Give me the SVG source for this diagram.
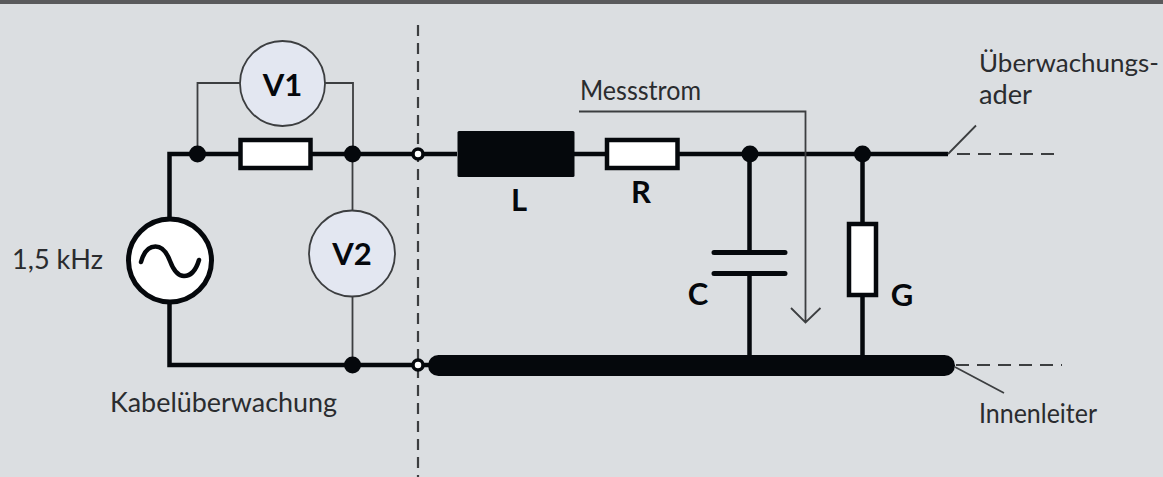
<svg xmlns="http://www.w3.org/2000/svg" width="1163" height="477" viewBox="0 0 1163 477">
<style>
.thin{fill:none;stroke:#3c3e40;stroke-width:1.8}
.wire{fill:none;stroke:#05080c;stroke-width:4.500}
.dash{fill:none;stroke:#3c3e40;stroke-width:2.200;stroke-dasharray:13 8}
.dot{fill:#05080c}
.open{fill:#fff;stroke:#05080c;stroke-width:3.500}
.res{fill:#fff;stroke:#05080c;stroke-width:4.500}
.meter{fill:#e3e7f1;stroke:#3c3e40;stroke-width:1.800}
text{font-family:"Lato","Open Sans","Liberation Sans",sans-serif;fill:#2a2c2f}
.lab{font-size:26px}
.b{font-size:31px;font-weight:700;fill:#05080c;text-anchor:middle}
</style>
<rect width="1163" height="477" fill="#dbdee1"/>
<rect width="1163" height="4" fill="#5a5a5c"/>
<g id="connectors">
<path class="dash" d="M418 25V477" style="stroke-dasharray:11 7"/>
<path class="wire" d="M169.500 220V154H457M574 154H750M750 154H948"/>
<path class="wire" d="M169.500 302V365H430"/>
<path class="wire" d="M749.500 154V252M749.500 274V356M862.500 154V223M862.500 296V356"/>
<path class="thin" d="M197.500 154V83H240M325 83H353V154M352.500 154V211M352.500 296V365"/>
<path class="thin" d="M579 111.500H805.500V322.500M791 308L805.500 322.500L820.500 308"/>
<path class="thin" d="M948 154L976 125.500M955 367L1004 393"/>
<path class="dash" d="M957 154H1056M956 365H1062"/>
</g>
<g id="source"><circle cx="170" cy="260.500" r="41.500" fill="#fff" stroke="#05080c" stroke-width="5"/><path d="M141 262C144 251 149 246.500 155.500 246.500C163 246.500 167 253 170 261C173 269 177 276 184 276C191 276 196 270 199 260" fill="none" stroke="#05080c" stroke-width="4.500" stroke-linecap="round"/></g>
<g id="v1"><circle class="meter" cx="282.500" cy="83.500" r="42.500"/><text class="b" x="282.500" y="95.500">V1</text></g>
<g id="v2"><circle class="meter" cx="352" cy="253.500" r="43"/><text class="b" x="352" y="265">V2</text></g>
<g id="shunt"><rect class="res" x="240.500" y="140" width="70" height="28"/></g>
<g id="junctions">
<circle class="dot" cx="197.500" cy="154" r="8.500"/><circle class="dot" cx="352.500" cy="154" r="8.500"/><circle class="dot" cx="352.500" cy="365" r="8.500"/><circle class="dot" cx="750" cy="154" r="8.500"/><circle class="dot" cx="862.500" cy="154" r="8.500"/>
<circle class="open" cx="418" cy="154" r="5"/><circle class="open" cx="418" cy="365" r="5"/>
</g>
<g id="inductor"><rect class="dot" x="457.500" y="131" width="117" height="46" rx="1.500"/><text class="b" x="519" y="211">L</text></g>
<g id="resistor"><rect class="res" x="607" y="140" width="70.500" height="28"/><text class="b" x="641" y="203">R</text></g>
<g id="capacitor"><path d="M714 252.500H785M714 273.500H785" fill="none" stroke="#05080c" stroke-width="5" stroke-linecap="round"/><text class="b" x="698" y="305">C</text></g>
<g id="conductance"><rect class="res" x="849" y="224" width="27" height="71"/><text class="b" x="902" y="306">G</text></g>
<g id="innenleiter"><rect class="dot" x="428" y="355" width="527" height="21" rx="10.500"/></g>
<g id="labels">
<text class="lab" x="12" y="269" textLength="91" lengthAdjust="spacingAndGlyphs">1,5 kHz</text>
<text class="lab" x="110" y="412" textLength="227" lengthAdjust="spacingAndGlyphs">Kabelüberwachung</text>
<text class="lab" x="580" y="100" textLength="121" lengthAdjust="spacingAndGlyphs">Messstrom</text>
<text x="979" y="72" font-size="25" textLength="180" lengthAdjust="spacingAndGlyphs">Überwachungs-</text>
<text class="lab" x="979" y="104" textLength="53" lengthAdjust="spacingAndGlyphs">ader</text>
<text class="lab" x="979" y="423" textLength="118" lengthAdjust="spacingAndGlyphs">Innenleiter</text>
</g>
</svg>
